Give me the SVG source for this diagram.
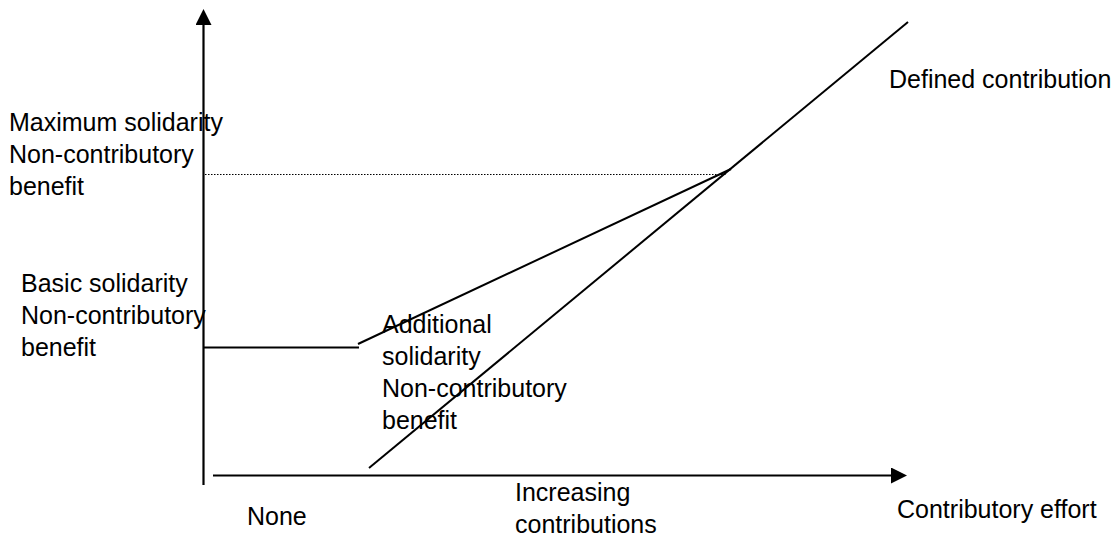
<svg xmlns="http://www.w3.org/2000/svg" width="1120" height="538" viewBox="0 0 1120 538">
<style>
.lbl{font-family:"Liberation Sans",Arial,sans-serif;font-size:25px;fill:#000}
.ln{stroke:#000;stroke-width:2;fill:none}
.axis{stroke:#000;stroke-width:2.2;fill:none}
.dot{stroke:#000;stroke-width:1.2;stroke-dasharray:1.5 1.5;fill:none}
</style>
<defs>
<marker id="arrow" markerUnits="userSpaceOnUse" markerWidth="16" markerHeight="16" refX="0" refY="8" orient="auto">
<path d="M0,0 L16,8 L0,16 z" fill="#000"/>
</marker>
</defs>
<rect width="1120" height="538" fill="#fff"/>
<g id="connectors">
<line id="y-axis" class="axis" x1="203.5" y1="485" x2="203.5" y2="25" marker-end="url(#arrow)"/>
<line id="x-axis" class="axis" x1="213" y1="475.5" x2="891" y2="475.5" marker-end="url(#arrow)"/>
<line id="max-level" class="dot" x1="205" y1="174.5" x2="727" y2="174.5"/>
<line id="basic-line" class="ln" x1="204" y1="347.5" x2="359" y2="347.5"/>
<line id="additional-line" class="ln" x1="358" y1="344" x2="731" y2="169"/>
<line id="dc-line" class="ln" x1="369" y1="468" x2="908" y2="22"/>
</g>
<g id="label-max">
<text class="lbl" x="9" y="131">Maximum solidarity</text>
<text class="lbl" x="9" y="163">Non-contributory</text>
<text class="lbl" x="9" y="195">benefit</text>
</g>
<g id="label-basic">
<text class="lbl" x="21" y="292">Basic solidarity</text>
<text class="lbl" x="21" y="324">Non-contributory</text>
<text class="lbl" x="21" y="356">benefit</text>
</g>
<g id="label-additional">
<text class="lbl" x="382" y="333">Additional</text>
<text class="lbl" x="382" y="365">solidarity</text>
<text class="lbl" x="382" y="397">Non-contributory</text>
<text class="lbl" x="382" y="429">benefit</text>
</g>
<g id="label-dc">
<text class="lbl" x="889" y="88">Defined contribution</text>
</g>
<g id="label-none">
<text class="lbl" x="247" y="525">None</text>
</g>
<g id="label-increasing">
<text class="lbl" x="515" y="501">Increasing</text>
<text class="lbl" x="515" y="533">contributions</text>
</g>
<g id="label-effort">
<text class="lbl" x="897" y="518">Contributory effort</text>
</g>
</svg>
